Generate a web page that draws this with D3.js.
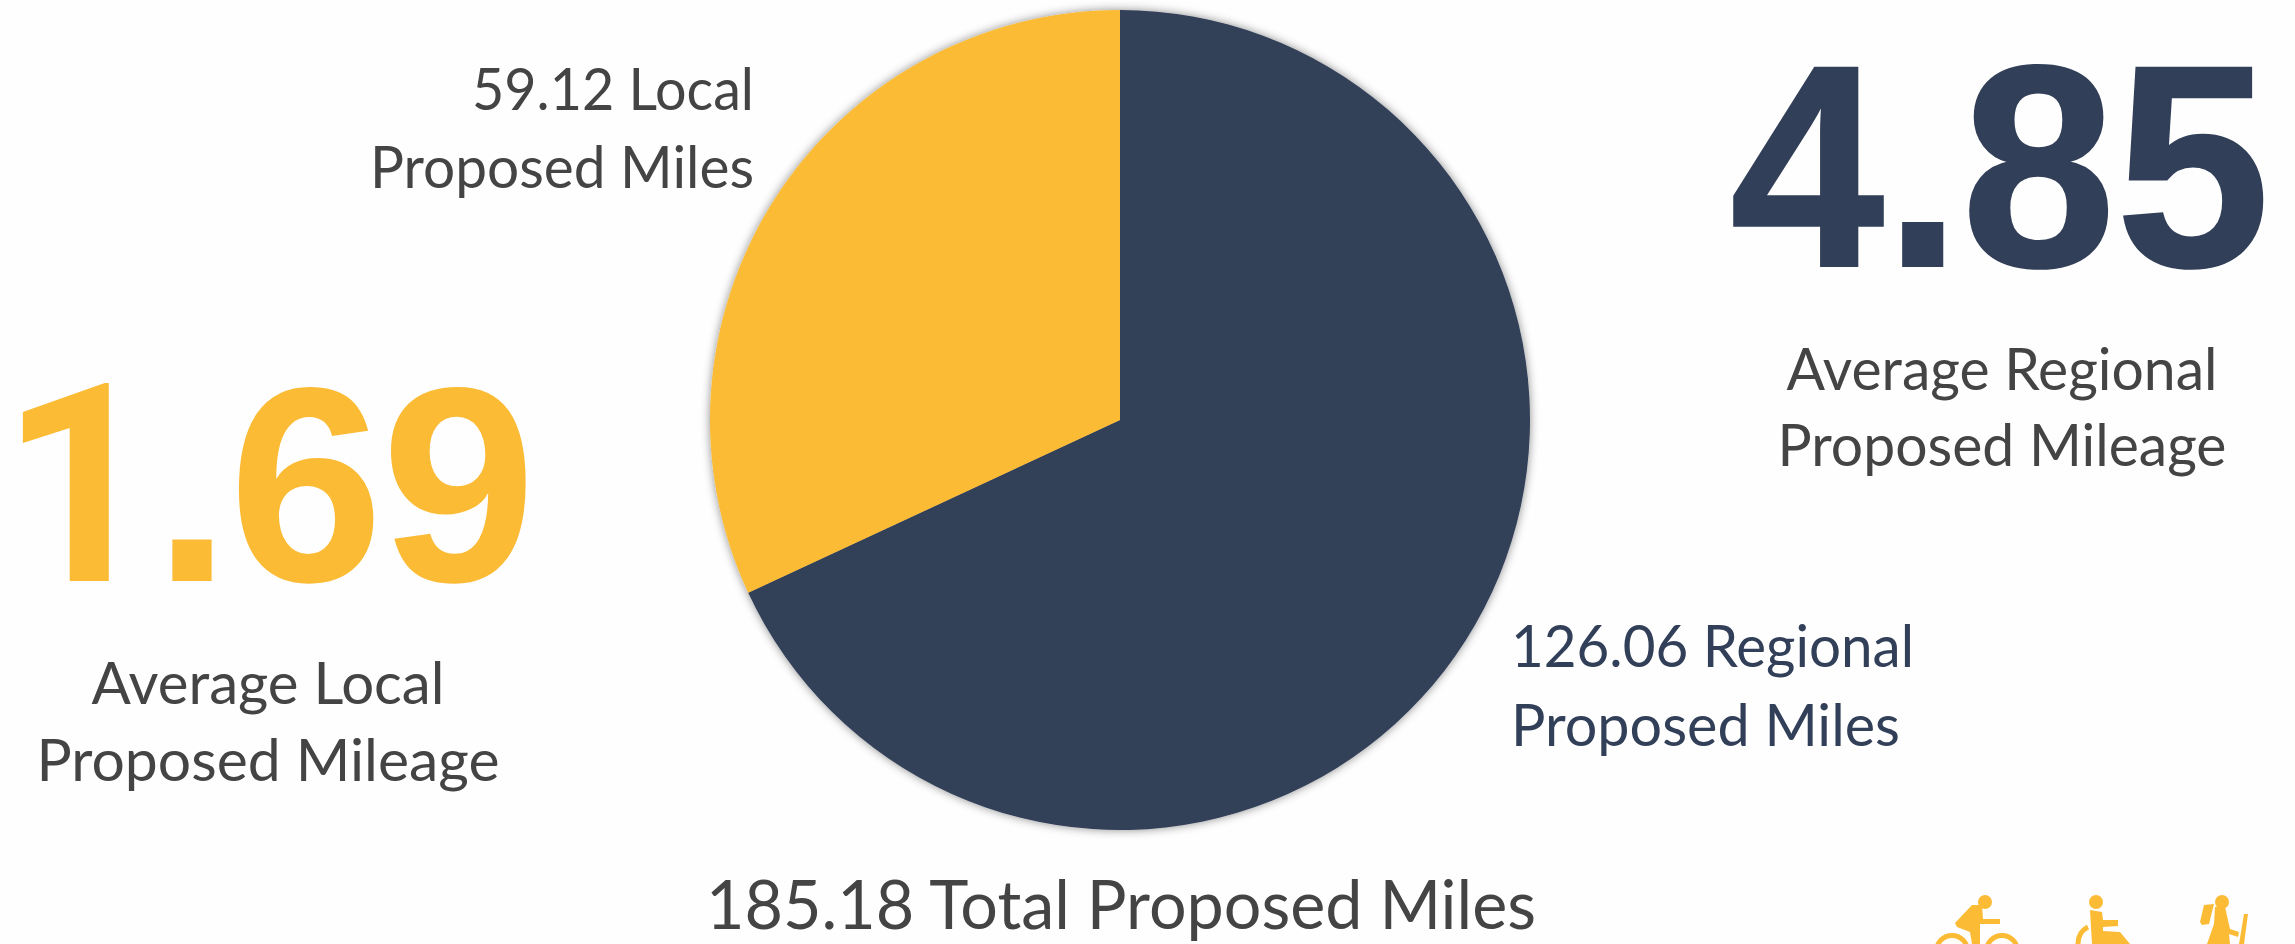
<!DOCTYPE html>
<html>
<head>
<meta charset="utf-8">
<script src="https://cdn.jsdelivr.net/npm/d3@7"></script>
<style>
  html, body { margin: 0; padding: 0; background: #fefefe; overflow: hidden; }
</style>
</head>
<body>
<script>
const categories = ["Regional", "Local"];
const miles = [126.06, 59.12];
const averages = ["4.85", "1.69"];
const sliceLabels = [["126.06 Regional", "Proposed Miles"], ["59.12 Local", "Proposed Miles"]];
const averageLabels = [["Average Regional", "Proposed Mileage"], ["Average Local", "Proposed Mileage"]];
const totalLabel = "185.18 Total Proposed Miles";

const width = 2295;
const height = 944;
const navy = "#323f58";
const yellow = "#fbbb35";
const grey = "#444444";

const svg = d3.select("body").append("svg")
    .attr("width", width)
    .attr("height", height)
    .attr("viewBox", [0, 0, width, height])
    .style("display", "block");

const color = d3.scaleOrdinal().domain(categories).range([navy, yellow]);

// soft shadow round the pie
const filter = svg.append("defs").append("filter")
    .attr("id", "pieShadow")
    .attr("x", "-5%").attr("y", "-5%")
    .attr("width", "110%").attr("height", "110%");
filter.append("feDropShadow")
    .attr("dx", 0).attr("dy", 0)
    .attr("stdDeviation", 5)
    .attr("flood-color", "#000")
    .attr("flood-opacity", 0.45);

const pie = d3.pie().sort(null)(miles);
const arc = d3.arc().innerRadius(0).outerRadius(410);

svg.append("g")
    .attr("transform", "translate(1120,420)")
    .attr("filter", "url(#pieShadow)")
    .selectAll("path")
    .data(pie)
    .join("path")
    .attr("d", arc)
    .attr("fill", (d, i) => color(categories[i]));

// widths are the measured line widths, so the Lato stand-in lands on the same edges
function lines(rows, x, y, step, anchor, size, fill, widths) {
    rows.forEach((row, i) => {
        svg.append("text")
            .attr("x", x)
            .attr("y", y + i * step)
            .attr("text-anchor", anchor)
            .attr("font-family", "Lato, sans-serif")
            .attr("font-size", size)
            .attr("fill", fill)
            .attr("textLength", widths[i])
            .attr("lengthAdjust", "spacingAndGlyphs")
            .text(row);
    });
}

// taller and a touch heavier than plain Liberation bold
svg.append("text")
    .attr("x", 2000)
    .attr("y", 266)
    .attr("text-anchor", "middle")
    .attr("font-family", "'Liberation Sans', Arial, sans-serif")
    .attr("font-weight", 700)
    .attr("font-size", 288)
    .attr("fill", navy)
    .attr("stroke", navy)
    .attr("stroke-width", 2)
    .attr("textLength", 540)
    .attr("lengthAdjust", "spacingAndGlyphs")
    .text(averages[0]);

// Liberation's 1 has a foot the reference does not have, so it gets its own font
const oneSixNine = svg.append("text")
    .attr("x", 0)
    .attr("y", 581)
    .attr("font-family", "'Liberation Sans', Arial, sans-serif")
    .attr("font-weight", 700)
    .attr("font-size", 278)
    .attr("fill", yellow);
oneSixNine.append("tspan")
    .attr("font-family", "Roboto, sans-serif")
    .text(averages[1].slice(0, 1));
oneSixNine.append("tspan")
    .attr("dx", -6)
    .attr("letter-spacing", -2)
    .text(averages[1].slice(1));

lines(sliceLabels[1], 754, 110, 78, "end", 58, grey, [282, 384]);
lines(sliceLabels[0], 1511, 667, 79, "start", 58, navy, [403, 389]);
lines(averageLabels[0], 2002, 390, 76, "middle", 58, grey, [431, 449]);
lines(averageLabels[1], 268, 704, 77, "middle", 58, grey, [353, 463]);
lines([totalLabel], 1121, 929, 0, "middle", 68, grey, [830]);

// activity icons, cut by the bottom of the page
const icons = svg.append("g").attr("fill", yellow).attr("stroke", "none");

// bike
const bike = icons.append("g").attr("transform", "translate(1985,902)");
bike.append("circle").attr("r", 7);
bike.append("path").attr("d", "M-13,3 L-3,3 L-2,17 L15,17 L15,22 L-5,22 L-5,42 L-13,42 L-15,30 L-28,25 L-30,21 Z");
bike.selectAll(".wheel").data([-33, 17]).join("circle")
    .attr("class", "wheel")
    .attr("cx", d => d).attr("cy", 49)
    .attr("r", 15.5)
    .attr("fill", "none")
    .attr("stroke", yellow)
    .attr("stroke-width", 5);

// wheelchair
const chair = icons.append("g").attr("transform", "translate(2096,902)");
chair.append("circle").attr("r", 7);
chair.append("path").attr("d", "M-6,8 L6,10 L7,18 L22,18 L22,24 L7,25 L7,29 L24,30 L34,42 L-4,42 Z");
chair.append("path").attr("d", "M-8,25 Q-18,30 -18,42").attr("fill", "none").attr("stroke", yellow).attr("stroke-width", 5);

// hiker
const hiker = icons.append("g").attr("transform", "translate(2222,902)");
hiker.append("circle").attr("r", 7);
hiker.append("path").attr("d", "M-7,5 L3,5 L8,27 L17,30 L16,35 L7,32 L8,42 L-15,42 L-8,22 Z");
hiker.append("path").attr("d", "M-18,3 L-8,2 L-13,22 L-20,23 L-22,20 Z");
hiker.append("path").attr("d", "M22,12 L26,12 L22,42 L17,42 Z");
</script>
</body>
</html>
